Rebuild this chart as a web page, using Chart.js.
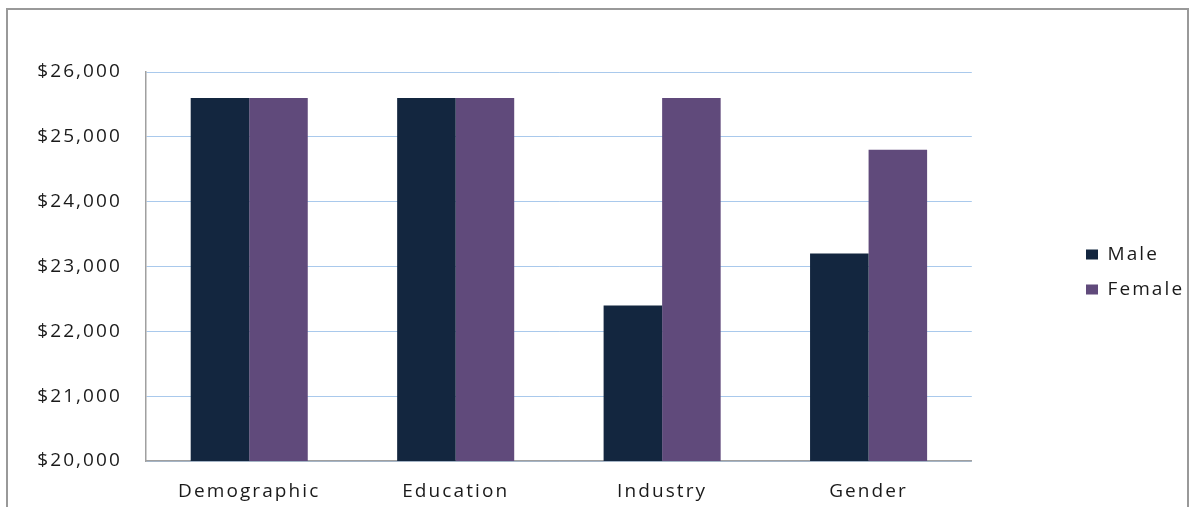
<!DOCTYPE html>
<html>
<head>
<meta charset="utf-8">
<script src="https://cdn.jsdelivr.net/npm/chart.js@4"></script>
<style>
    html, body { margin: 0; padding: 0; background: #fff; }
    #wrap { position: relative; width: 1189px; height: 507px; overflow: hidden; }
    #frame { position: absolute; left: 6px; top: 8px; width: 1183px; height: 600px; border: 2px solid #999; box-sizing: border-box; }
    canvas { position: absolute; left: 0; top: 0; }
</style>
</head>
<body>
<div id="wrap">
    <div id="frame"></div>
    <canvas id="salaryChart" width="1189" height="507"></canvas>
</div>
<script>
const categories = ["Demographic", "Education", "Industry", "Gender"];
const maleValues = [25600, 25600, 22400, 23200];
const femaleValues = [25600, 25600, 25600, 24800];
const yMin = 20000;
const yMax = 26000;
const yStep = 1000;

const textColor = "#1a1a1a";
const font = { family: "'Open Sans', sans-serif", size: 19 };

// canvas letter spacing gets reset on resize, so set it before each layout/draw
const spacing = {
    id: "spacing",
    beforeUpdate(chart) { chart.ctx.letterSpacing = "2.1px"; },
    beforeDraw(chart) { chart.ctx.letterSpacing = "2.1px"; }
};

// move the legend out to the right, away from the plot
const legendSpot = {
    id: "legendSpot",
    afterLayout(chart) {
        const lg = chart.legend;
        const w = lg.right - lg.left;
        const h = lg.bottom - lg.top;
        lg.left = 1070;
        lg.right = lg.left + w;
        lg.top = 229;
        lg.bottom = lg.top + h;
    }
};

new Chart(document.getElementById("salaryChart"), {
    type: "bar",
    data: {
        labels: categories,
        datasets: [
            { label: "Male", data: maleValues, backgroundColor: "#13263f" },
            { label: "Female", data: femaleValues, backgroundColor: "#604a7b" }
        ]
    },
    options: {
        responsive: false,
        animation: false,
        devicePixelRatio: 1,
        categoryPercentage: 0.567,
        barPercentage: 1,
        layout: { padding: { top: 72, right: 93, left: 0, bottom: 0 } },
        plugins: {
            legend: {
                position: "right",
                align: "start",
                labels: {
                    color: textColor,
                    font: font,
                    boxWidth: 12,
                    boxHeight: 10,
                    padding: 16
                }
            },
            tooltip: { enabled: false }
        },
        scales: {
            x: {
                grid: { display: false, drawTicks: false },
                border: { color: "#a0a0a0", width: 1.5 },
                ticks: { color: textColor, font: font, padding: 19 },
                afterFit(s) { s.height = 46; }
            },
            y: {
                min: yMin,
                max: yMax,
                grid: { color: "#a9c9ec", drawTicks: false },
                border: { color: "#a0a0a0", width: 1.5 },
                ticks: {
                    stepSize: yStep,
                    color: textColor,
                    font: font,
                    padding: 24,
                    callback: v => "$" + v.toLocaleString("en-US")
                },
                afterFit(s) { s.width = 146; }
            }
        }
    },
    plugins: [spacing, legendSpot]
});
</script>
</body>
</html>
